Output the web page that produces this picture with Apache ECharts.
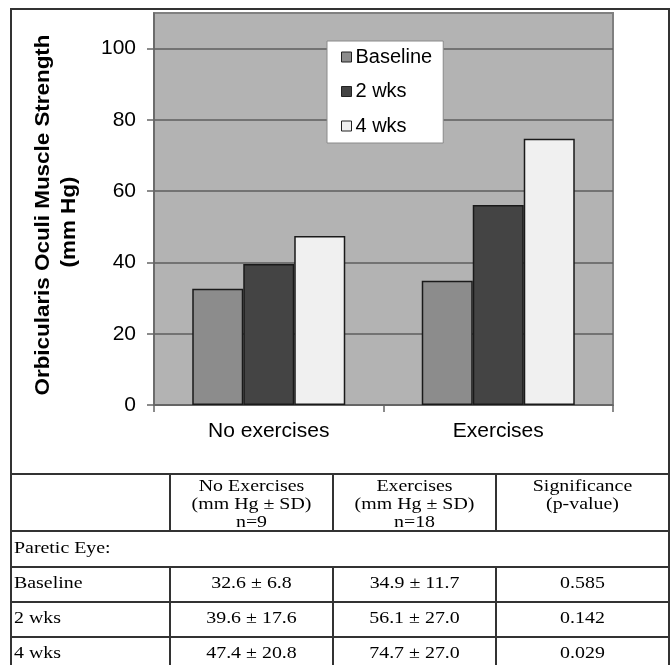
<!DOCTYPE html>
<html>
<head>
<meta charset="utf-8">
<script src="https://cdn.jsdelivr.net/npm/echarts@6/dist/echarts.min.js"></script>
<style>
html,body{margin:0;padding:0;background:#fff;}
#c{width:672px;height:665px;}
</style>
</head>
<body>
<div id="c"></div>
<script>
// ---- data ----
const categories = ['No exercises', 'Exercises'];
const seriesNames = ['Baseline', '2 wks', '4 wks'];
const baselineVals = [32.6, 34.9];
const wk2Vals = [39.6, 56.1];
const wk4Vals = [47.4, 74.7];
const yTicks = [0, 20, 40, 60, 80, 100];
const yTitle = ['Orbicularis Oculi Muscle Strength', '(mm Hg)'];

// table data
const tableHeaders = ['No Exercises\n(mm Hg \u00b1 SD)\nn=9', 'Exercises\n(mm Hg \u00b1 SD)\nn=18', 'Significance\n(p-value)'];
const sectionLabel = 'Paretic Eye:';
const rowLabels = ['Baseline', '2 wks', '4 wks'];
const noExMeans = [32.6, 39.6, 47.4];
const noExSD = [6.8, 17.6, 20.8];
const exMeans = [34.9, 56.1, 74.7];
const exSD = [11.7, 27.0, 27.0];
const pValues = ['0.585', '0.142', '0.029'];

// ---- layout ----
const colors = ['#8c8c8c', '#444444', '#f0f0f0'];
const seriesData = [baselineVals, wk2Vals, wk4Vals];
const X0 = 11, X1 = 669;
const colX = [170, 333, 496];
const rowY = [474, 531, 567, 602, 637];
const tableFont = '17px "Liberation Serif", "Times New Roman", serif';
const tScale = 1.17;

const graphics = [];
// outer border
graphics.push({type: 'rect', shape: {x: X0, y: 9, width: X1 - X0, height: 700},
  style: {fill: 'none', stroke: '#333', lineWidth: 2}, z: 100, silent: true});
// y axis title (two lines, rotated)
const titlePos = [[43, 215], [69, 222]];
yTitle.forEach((t, i) => {
  graphics.push({type: 'text', x: titlePos[i][0], y: titlePos[i][1], rotation: Math.PI / 2,
    scaleX: 1.12, z: 100,
    style: {text: t, font: 'bold 20px "Liberation Sans", Arial, sans-serif', fill: '#000',
      align: 'center', verticalAlign: 'middle', textAlign: 'center', textVerticalAlign: 'middle'}});
});
// table horizontal lines
rowY.forEach(y => {
  graphics.push({type: 'line', shape: {x1: X0, y1: y, x2: X1, y2: y},
    style: {stroke: '#333', lineWidth: 2}, z: 100});
});
// table vertical lines (header row and data rows)
colX.forEach(x => {
  graphics.push({type: 'line', shape: {x1: x, y1: rowY[0], x2: x, y2: rowY[1]},
    style: {stroke: '#333', lineWidth: 2}, z: 100});
  graphics.push({type: 'line', shape: {x1: x, y1: rowY[2], x2: x, y2: 700},
    style: {stroke: '#333', lineWidth: 2}, z: 100});
});
const colCenters = [(colX[0] + colX[1]) / 2, (colX[1] + colX[2]) / 2, (colX[2] + X1) / 2];
function tText(txt, x, y, align) {
  graphics.push({type: 'text', x: x, y: y, scaleX: tScale, z: 100,
    style: {text: txt, font: tableFont, fill: '#000', lineHeight: 18,
      align: align, verticalAlign: 'middle', textAlign: align, textVerticalAlign: 'middle'}});
}
tableHeaders.forEach((h, i) => tText(h, colCenters[i], i === 2 ? 496 : 505, 'center'));
tText(sectionLabel, 14, 549, 'left');
const rowCenters = [584, 619, 654];
rowLabels.forEach((r, i) => {
  tText(r, 14, rowCenters[i], 'left');
  tText(noExMeans[i].toFixed(1) + ' \u00b1 ' + noExSD[i].toFixed(1), colCenters[0], rowCenters[i], 'center');
  tText(exMeans[i].toFixed(1) + ' \u00b1 ' + exSD[i].toFixed(1), colCenters[1], rowCenters[i], 'center');
  tText(pValues[i], colCenters[2], rowCenters[i], 'center');
});

const chart = echarts.init(document.getElementById('c'), null, {renderer: 'canvas'});
const sansFont = '"Liberation Sans", Arial, sans-serif';
chart.setOption({
  animation: false,
  backgroundColor: '#fff',
  grid: {left: 154, top: 13, width: 459, height: 392, show: true,
    backgroundColor: '#b3b3b3', borderColor: '#808080', borderWidth: 2},
  legend: {
    data: seriesNames, orient: 'vertical', left: 327, top: 41,
    backgroundColor: '#fff', borderColor: '#8a8a8a', borderWidth: 1,
    padding: [6, 11, 7, 14], itemGap: 14.5, itemWidth: 10, itemHeight: 10,
    icon: 'rect',
    itemStyle: {borderColor: '#222', borderWidth: 1},
    textStyle: {fontFamily: sansFont, fontSize: 20, color: '#000', lineHeight: 20, padding: [0, 0, 0, -1]}
  },
  xAxis: {
    type: 'category', data: categories,
    axisLine: {lineStyle: {color: '#666', width: 1.5}},
    axisTick: {show: true, length: 7, alignWithLabel: false, lineStyle: {color: '#666', width: 1.5}},
    axisLabel: {fontFamily: sansFont, fontSize: 21, color: '#000', margin: 16},
    splitLine: {show: false}
  },
  yAxis: {
    type: 'value', min: 0, max: 110, interval: 20,
    axisLine: {show: true, lineStyle: {color: '#666', width: 1.5}},
    axisTick: {show: true, length: 7, lineStyle: {color: '#666', width: 1.5}, customValues: yTicks},
    axisLabel: {fontFamily: sansFont, fontSize: 21, color: '#000', margin: 18, customValues: yTicks},
    splitLine: {show: true, lineStyle: {color: '#5e5e5e', width: 1.5}}
  },
  series: seriesNames.map((n, i) => ({
    name: n, type: 'bar', data: seriesData[i], barWidth: 51, barGap: '0%',
    itemStyle: {color: colors[i], borderColor: '#1a1a1a', borderWidth: 1.5}
  })),
  graphic: graphics
});
</script>
</body>
</html>
